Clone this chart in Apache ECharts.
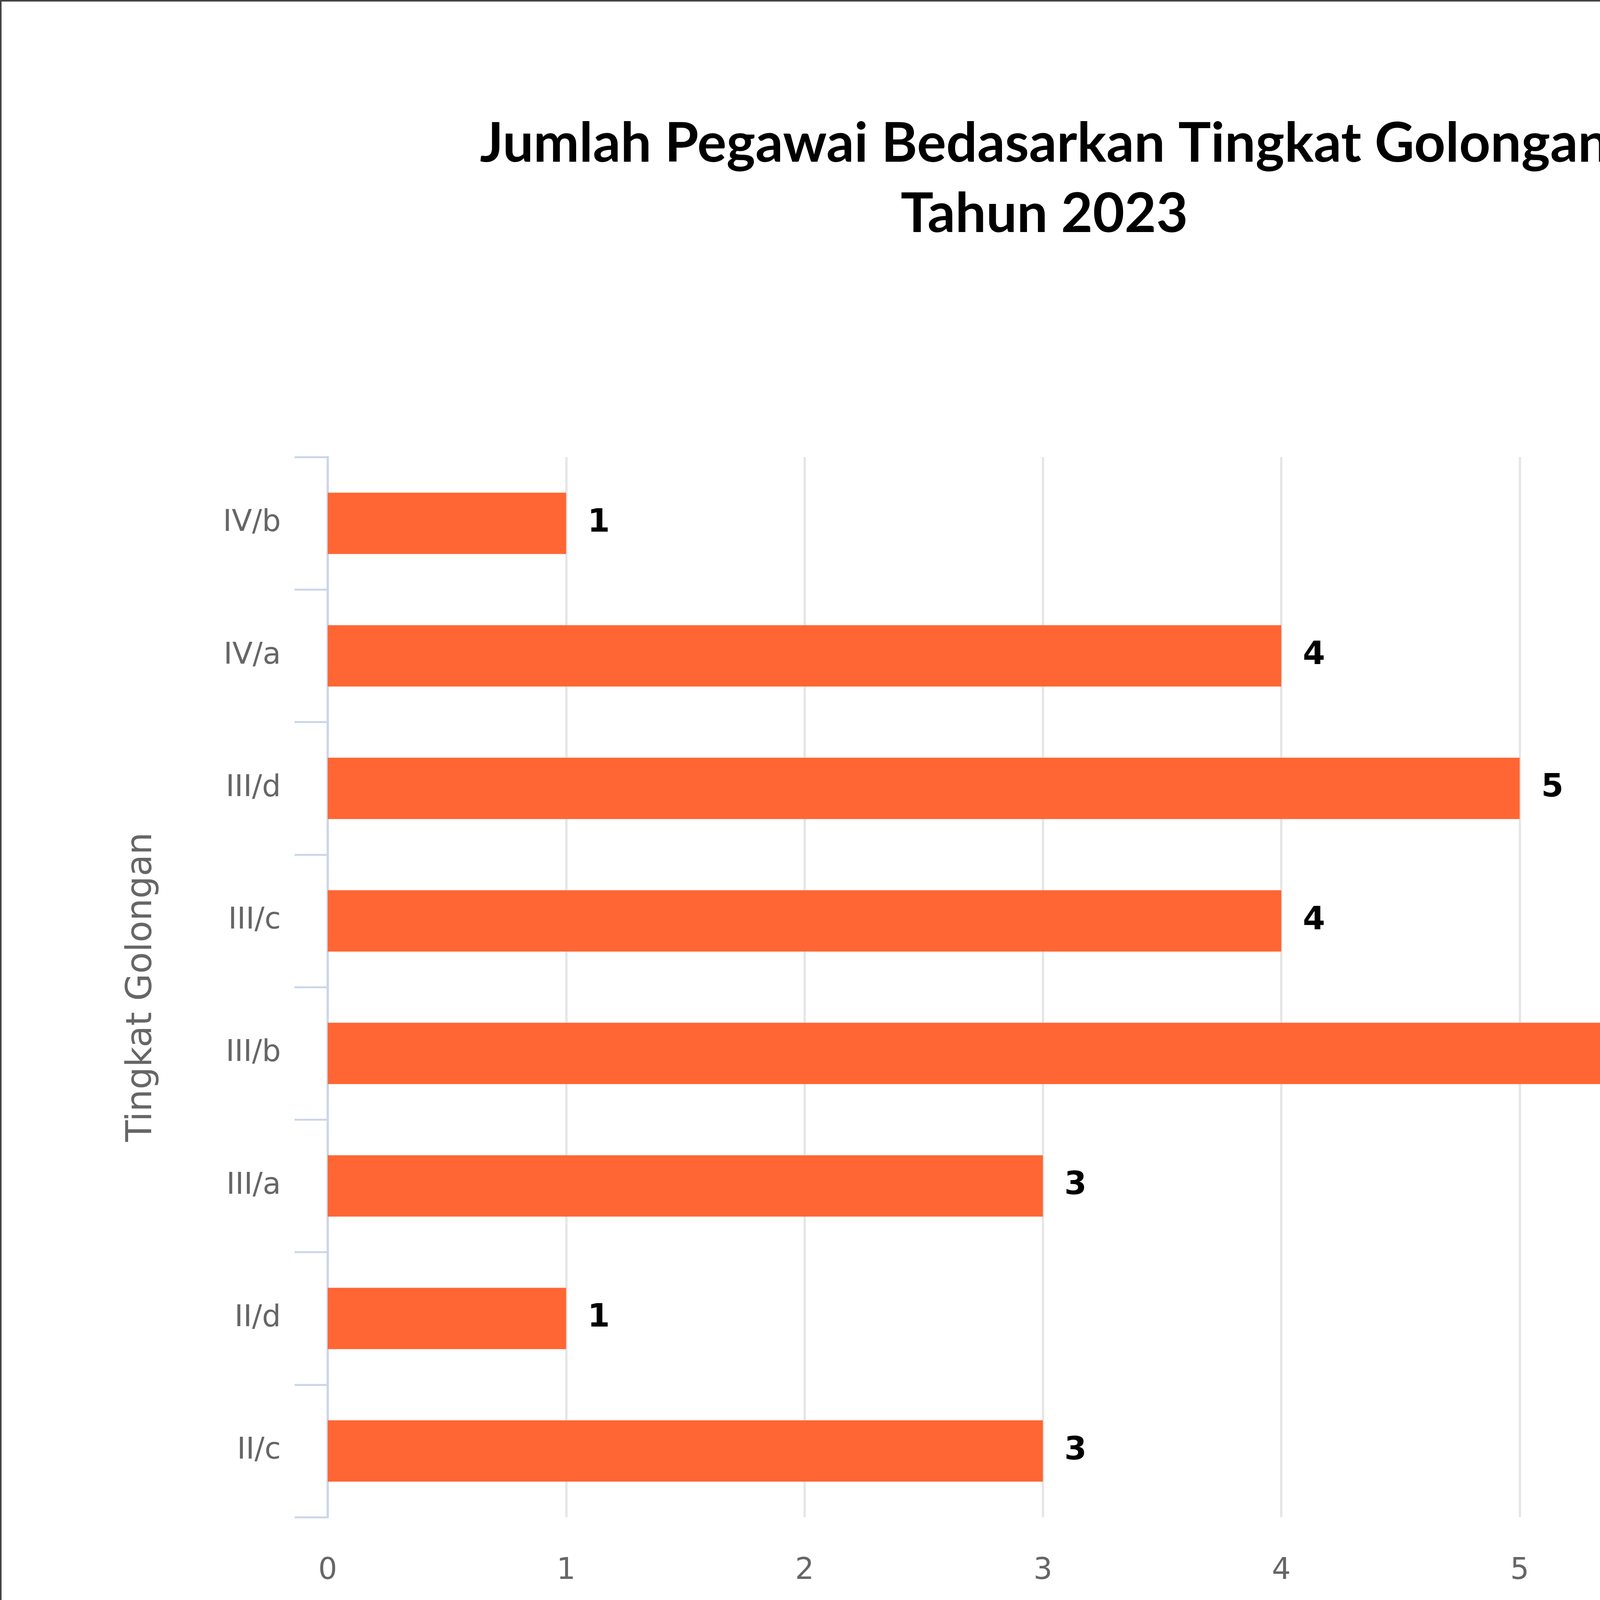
<!DOCTYPE html>
<html>
<head>
<meta charset="utf-8">
<script src="https://cdn.jsdelivr.net/npm/echarts@6/dist/echarts.min.js"></script>
<style>
  html, body { margin: 0; padding: 0; background: #fff; }
  #chart { width: 5347px; height: 4641px; box-sizing: border-box; border: 4px solid #444; }
</style>
</head>
<body>
<div id="chart"></div>
<script>
// data, bottom to top
const categories = ['II/c', 'II/d', 'III/a', 'III/b', 'III/c', 'III/d', 'IV/a', 'IV/b'];
const values = [3, 1, 3, 6, 4, 5, 4, 1];
const xTicks = [0, 1, 2, 3, 4, 5, 6, 7];

const chart = echarts.init(document.getElementById('chart'));

const option = {
  animation: false,
  title: {
    text: 'Jumlah Pegawai Bedasarkan Tingkat Golongan\nTahun 2023',
    left: 'center',
    top: 270,
    textStyle: {
      fontFamily: 'Lato',
      fontWeight: 'bold',
      fontSize: 140,
      lineHeight: 180,
      color: '#000'
    }
  },
  grid: { left: 835, right: 232, top: 1166, bottom: 753 },
  xAxis: {
    type: 'value',
    min: xTicks[0],
    max: xTicks[xTicks.length - 1],
    interval: 1,
    name: 'Jumlah',
    nameLocation: 'end',
    nameGap: 0,
    nameTextStyle: {
      color: '#666', fontSize: 90, fontFamily: 'DejaVu Sans',
      align: 'right', verticalAlign: 'top', padding: [270, 0, 0, 0]
    },
    axisLine: { show: false },
    axisTick: { show: false },
    axisLabel: { color: '#666', fontSize: 76, margin: 100, fontFamily: 'DejaVu Sans' },
    splitLine: { lineStyle: { color: '#e6e6e6', width: 6 } }
  },
  yAxis: {
    type: 'category',
    data: categories,
    name: 'Tingkat Golongan',
    nameLocation: 'middle',
    nameGap: 430,
    nameTextStyle: { color: '#666', fontSize: 90, fontFamily: 'DejaVu Sans' },
    axisLine: { show: true, lineStyle: { color: '#ccd6eb', width: 6 } },
    axisTick: { show: true, interval: 0, alignWithLabel: false, length: 85, lineStyle: { color: '#ccd6eb', width: 5 } },
    axisLabel: { color: '#666', fontSize: 76, margin: 120, fontFamily: 'DejaVu Sans' }
  },
  series: [{
    type: 'bar',
    data: values,
    barWidth: 157,
    itemStyle: { color: '#ff6633' },
    label: {
      show: true,
      position: 'right',
      distance: 55,
      color: '#000',
      fontWeight: 'bold',
      fontSize: 82,
      fontFamily: 'DejaVu Sans'
    }
  }]
};

chart.setOption(option);
</script>
</body>
</html>
